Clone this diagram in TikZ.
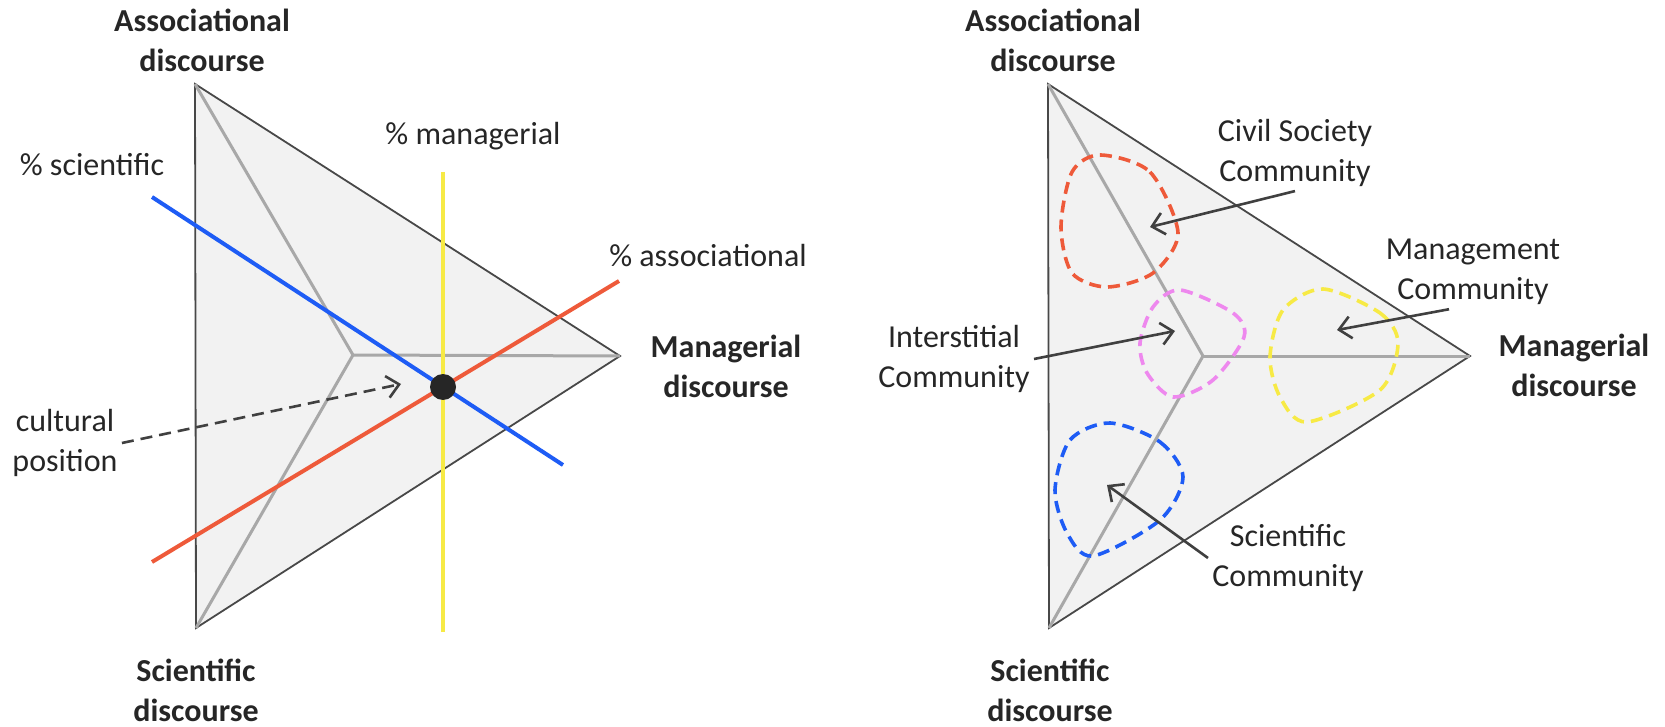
\documentclass[tikz,border=0pt]{standalone}
\usepackage{fontspec}
\setmainfont{Carlito}
\usetikzlibrary{arrows.meta}
\definecolor{trifill}{HTML}{F2F2F2}
\definecolor{triborder}{HTML}{484848}
\definecolor{spokegray}{HTML}{A8A8A8}
\definecolor{txtgray}{HTML}{262626}
\definecolor{arrowgray}{HTML}{404040}
\definecolor{sciblue}{HTML}{1E5CF5}
\definecolor{assred}{HTML}{EE5A3A}
\definecolor{manyellow}{HTML}{F7EA45}
\definecolor{intpink}{HTML}{EE88EE}

\begin{document}
\begin{tikzpicture}[x=0.5pt,y=-0.5pt]
\tikzset{
  lbl/.style={align=center,text=txtgray,inner sep=2pt,font=\fontsize{16}{20}\selectfont},
  corner/.style={lbl,font=\bfseries\fontsize{16}{20}\selectfont},
  tri/.style={draw=triborder,fill=trifill,line width=0.9pt},
  spoke/.style={draw=spokegray,line width=1.5pt},
  share/.style={line width=2pt},
  blob/.style={line width=1.8pt,dash pattern=on 6pt off 3.5pt},
  pointer/.style={draw=arrowgray,line width=1.3pt,-{Straight Barb[length=6pt,width=11pt]}}
}
\useasboundingbox (0,0) rectangle (1665,727);

% left triangle
\coordinate (LA) at (195,84);
\coordinate (LS) at (196,628);
\coordinate (LM) at (620,356);
\coordinate (LO) at (353,355);
\draw[tri] (LA) -- (LM) -- (LS) -- cycle;
\foreach \v in {LA,LM,LS} \draw[spoke] (LO) -- (\v);

\draw[share,draw=sciblue] (152,197) -- (563,465);
\draw[share,draw=assred] (152,562) -- (619,281);
\draw[share,draw=manyellow] (443,172) -- (443,632);
\node[circle,fill=txtgray,minimum size=13pt,inner sep=0] (pos) at (443,387) {};

\node[corner] (LAl) at (202,40) {Associational\\discourse};
\node[corner] (LMl) at (726,366) {Managerial\\discourse};
\node[corner] (LSl) at (196,690) {Scientific\\discourse};
\node[lbl] (pman) at (473,136) {\% managerial};
\node[lbl] (psci) at (92,165) {\% scientific};
\node[lbl] (pass) at (708,256) {\% associational};
\node[lbl] (cult) at (65,443) {cultural\\position};
\coordinate (culttip) at (401,384);
\draw[pointer,dash pattern=on 6pt off 3.5pt] (cult.east) -- (culttip);

% right triangle
\coordinate (RA) at (1048,84);
\coordinate (RS) at (1049,628);
\coordinate (RM) at (1470,356);
\coordinate (RO) at (1203,356);
\draw[tri] (RA) -- (RM) -- (RS) -- cycle;
\foreach \v in {RA,RM,RS} \draw[spoke] (RO) -- (\v);

\draw[blob,draw=assred] plot[smooth cycle] coordinates {(1100,155) (1150,172) (1178,233) (1153,273) (1107,287) (1072,273) (1061,227) (1072,172)};
\draw[blob,draw=intpink] plot[smooth cycle] coordinates {(1180,290) (1233,313) (1244,337) (1213,380) (1173,397) (1147,373) (1140,343) (1153,307)};
\draw[blob,draw=manyellow] plot[smooth cycle] coordinates {(1323,289) (1380,313) (1398,343) (1380,390) (1307,422) (1280,397) (1270,357) (1283,310)};
\draw[blob,draw=sciblue] plot[smooth cycle] coordinates {(1110,423) (1160,442) (1183,477) (1160,520) (1093,556) (1067,533) (1055,490) (1070,440)};

\node[corner] (RAl) at (1053,40) {Associational\\discourse};
\node[corner] (RMl) at (1574,365) {Managerial\\discourse};
\node[corner] (RSl) at (1050,690) {Scientific\\discourse};
\node[lbl] (civil) at (1295,153) {Civil Society\\Community};
\node[lbl] (mgmt) at (1473,272) {Management\\Community};
\node[lbl] (inter) at (954,359) {Interstitial\\Community};
\node[lbl] (scicom) at (1288,558) {Scientific\\Community};

\coordinate (civtip) at (1150,227);
\coordinate (mgmttip) at (1337,330);
\coordinate (intertip) at (1175,331);
\coordinate (scitip) at (1107,485);
\draw[pointer] (civil.south) -- (civtip);
\draw[pointer] ([xshift=-12pt]mgmt.south) -- (mgmttip);
\draw[pointer] (inter.east) -- (intertip);
\draw[pointer] (scicom.west) -- (scitip);
\end{tikzpicture}
\end{document}
